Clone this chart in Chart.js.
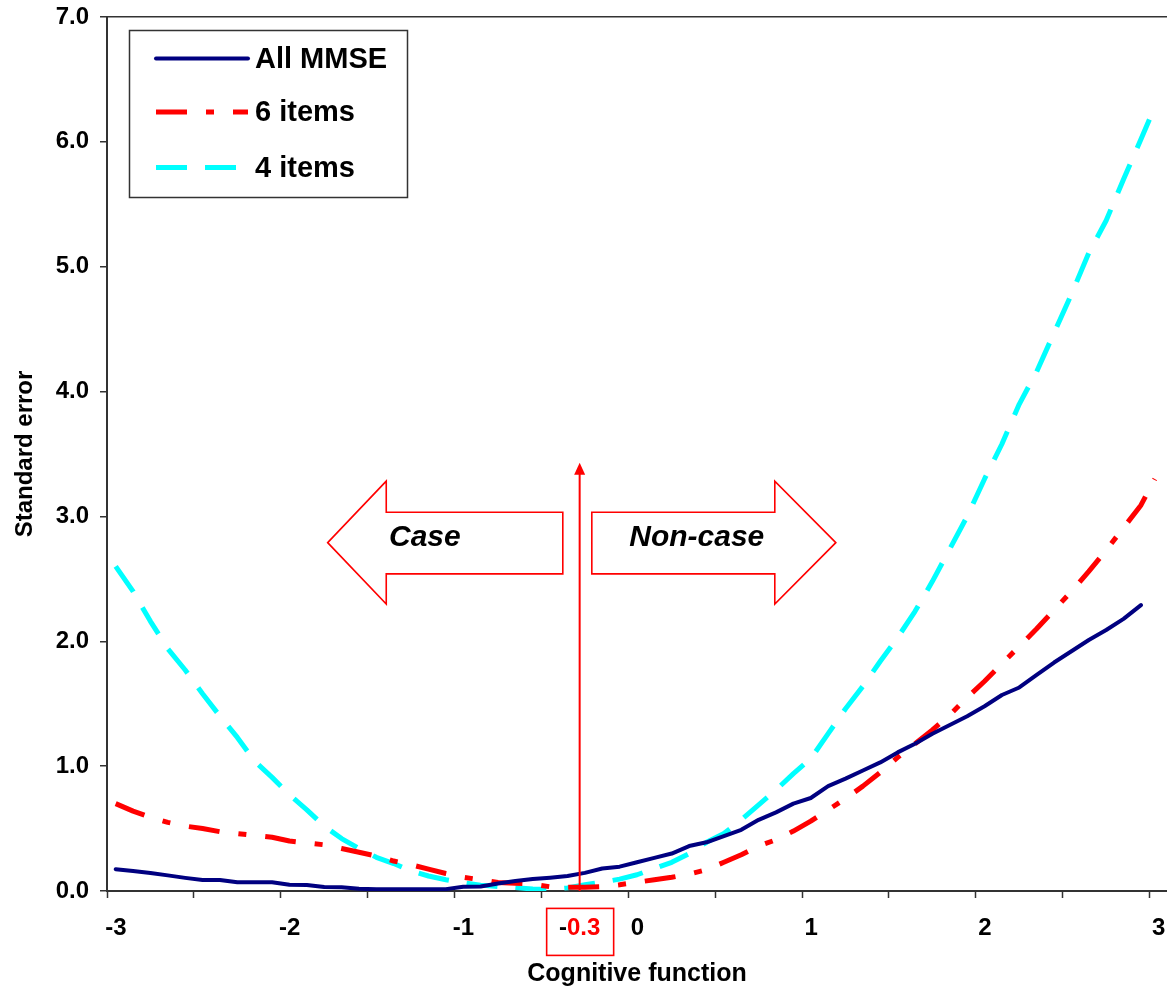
<!DOCTYPE html>
<html>
<head>
<meta charset="utf-8">
<script src="https://cdn.jsdelivr.net/npm/chart.js@4.4.1/dist/chart.umd.min.js"></script>
<style>
  html, body { margin: 0; padding: 0; background: #fff; }
  #wrap { width: 1167px; height: 990px; }
</style>
</head>
<body>
<div id="wrap"><canvas id="myChart"></canvas></div>
<script>
// cognitive function values (x) shared by the three curves
var xs = [-2.95, -2.85, -2.75, -2.65, -2.55, -2.45, -2.35, -2.25, -2.15, -2.05,
          -1.95, -1.85, -1.75, -1.65, -1.55, -1.45, -1.35, -1.25, -1.15, -1.05,
          -0.95, -0.85, -0.75, -0.65, -0.55, -0.45, -0.35, -0.25, -0.15, -0.05,
          0.05, 0.15, 0.25, 0.35, 0.45, 0.55, 0.65, 0.75, 0.85, 0.95,
          1.05, 1.15, 1.25, 1.35, 1.45, 1.55, 1.65, 1.75, 1.85, 1.95,
          2.05, 2.15, 2.25, 2.35, 2.45, 2.55, 2.65, 2.75, 2.85, 2.95,
          3.03];

var allMmse = [0.175, 0.16, 0.145, 0.125, 0.105, 0.088, 0.088, 0.07, 0.07, 0.07,
               0.05, 0.048, 0.032, 0.03, 0.018, 0.014, 0.014, 0.014, 0.014, 0.015,
               0.034, 0.036, 0.06, 0.08, 0.096, 0.107, 0.12, 0.145, 0.18, 0.195,
               0.23, 0.265, 0.30, 0.36, 0.39, 0.44, 0.49, 0.57, 0.63, 0.70,
               0.745, 0.84, 0.90, 0.965, 1.03, 1.11, 1.18, 1.26, 1.33, 1.40,
               1.48, 1.57, 1.63, 1.73, 1.83, 1.92, 2.01, 2.09, 2.18, 2.29,
               null];

var sixItems = [0.70, 0.64, 0.59, 0.55, 0.52, 0.50, 0.475, 0.46, 0.445, 0.43,
                0.40, 0.385, 0.37, 0.34, 0.31, 0.28, 0.24, 0.21, 0.175, 0.14,
                0.11, 0.09, 0.068, 0.062, 0.055, 0.034, 0.03, 0.03, 0.035, 0.05,
                0.07, 0.09, 0.11, 0.135, 0.17, 0.23, 0.29, 0.36, 0.41, 0.48,
                0.56, 0.65, 0.74, 0.84, 0.95, 1.07, 1.18, 1.29, 1.41, 1.55,
                1.68, 1.82, 1.96, 2.10, 2.25, 2.40, 2.56, 2.73, 2.91, 3.09,
                3.30];

var fourItems = [2.60, 2.40, 2.16, 1.94, 1.77, 1.58, 1.40, 1.23, 1.04, 0.91,
                 0.77, 0.65, 0.52, 0.42, 0.34, 0.27, 0.22, 0.16, 0.12, 0.09,
                 0.065, 0.047, 0.035, 0.027, 0.016, 0.014, 0.025, 0.05, 0.07, 0.095,
                 0.13, 0.18, 0.23, 0.30, 0.39, 0.46, 0.57, 0.69, 0.81, 0.94,
                 1.06, 1.26, 1.46, 1.64, 1.84, 2.03, 2.24, 2.48, 2.74, 3.00,
                 3.30, 3.58, 3.90, 4.16, 4.47, 4.78, 5.11, 5.37, 5.70, 6.02,
                 6.28];

var seriesNames = ['All MMSE', '6 items', '4 items'];
var xTicks = [-3, -2.5, -2, -1.5, -1, -0.5, 0, 0.5, 1, 1.5, 2, 2.5, 3];
var yTicks = [0, 1, 2, 3, 4, 5, 6, 7];

// cut-off and the two direction arrows, in data units
var cutoff = -0.28;
var cutoffTop = 3.43;
var cutoffLabel = ['-', '0.3'];
var caseArrow = [[-1.73, 2.79], [-1.393, 3.283], [-1.393, 3.034], [-0.377, 3.034],
                 [-0.377, 2.54], [-1.393, 2.54], [-1.393, 2.298]];
var nonCaseArrow = [[1.194, 2.79], [0.843, 3.283], [0.843, 3.034], [-0.21, 3.034],
                    [-0.21, 2.54], [0.843, 2.54], [0.843, 2.298]];
var arrowTexts = [{text: 'Case', x: -1.171, y: 2.83}, {text: 'Non-case', x: 0.394, y: 2.83}];

var FONT = '"Liberation Sans", Arial, sans-serif';
Chart.defaults.font.family = FONT;

var TICK_SIZE = 24;
var TICK_PAD = 16;

function pts(arr) {
    return xs.map((x, i) => ({x: x, y: arr[i]}));
}

var styles = [
    {color: '#000080', width: 4, dash: []},
    {color: '#ff0000', width: 5, dash: [31, 19, 8, 19]},
    {color: '#00ffff', width: 5, dash: [31, 18]}
];

var overlay = {
    id: 'overlay',
    afterDatasetsDraw(chart) {
        var ctx = chart.ctx;
        var xS = chart.scales.x, yS = chart.scales.y;
        var px = v => xS.getPixelForValue(v);
        var py = v => yS.getPixelForValue(v);
        ctx.save();

        // direction arrows
        ctx.strokeStyle = '#ff0000';
        ctx.lineWidth = 1.6;
        ctx.lineJoin = 'miter';
        [caseArrow, nonCaseArrow].forEach(poly => {
            ctx.beginPath();
            poly.forEach((p, i) => {
                if (i === 0) ctx.moveTo(px(p[0]), py(p[1]));
                else ctx.lineTo(px(p[0]), py(p[1]));
            });
            ctx.closePath();
            ctx.stroke();
        });
        ctx.fillStyle = '#000';
        ctx.font = 'italic bold 30px ' + FONT;
        ctx.textAlign = 'center';
        ctx.textBaseline = 'middle';
        arrowTexts.forEach(t => ctx.fillText(t.text, px(t.x), py(t.y)));

        // vertical cut-off arrow
        var cx = px(cutoff), top = py(cutoffTop);
        ctx.strokeStyle = '#ff0000';
        ctx.lineWidth = 2;
        ctx.beginPath();
        ctx.moveTo(cx, py(0));
        ctx.lineTo(cx, top + 10);
        ctx.stroke();
        ctx.fillStyle = '#ff0000';
        ctx.beginPath();
        ctx.moveTo(cx, top);
        ctx.lineTo(cx - 5.5, top + 12);
        ctx.lineTo(cx + 5.5, top + 12);
        ctx.closePath();
        ctx.fill();

        // boxed cut-off label under the axis
        ctx.font = 'bold ' + TICK_SIZE + 'px ' + FONT;
        ctx.textAlign = 'left';
        var w1 = ctx.measureText(cutoffLabel[0]).width;
        var w2 = ctx.measureText(cutoffLabel[1]).width;
        var lx = px(cutoff) - (w1 + w2) / 2;
        var ly = xS.top + 7 + TICK_PAD + TICK_SIZE * 1.2 / 2;
        ctx.fillStyle = '#000';
        ctx.fillText(cutoffLabel[0], lx, ly);
        ctx.fillStyle = '#ff0000';
        ctx.fillText(cutoffLabel[1], lx + w1, ly);
        ctx.strokeStyle = '#ff0000';
        ctx.lineWidth = 1.6;
        ctx.strokeRect(px(cutoff) - 33, ly - 20, 67, 47);

        // legend box
        var lg = {x: 129.5, y: 30.5, w: 278, h: 167};
        ctx.fillStyle = '#fff';
        ctx.fillRect(lg.x, lg.y, lg.w, lg.h);
        ctx.strokeStyle = '#333';
        ctx.lineWidth = 1.5;
        ctx.strokeRect(lg.x, lg.y, lg.w, lg.h);
        var rows = [58.5, 112, 167.5];
        ctx.font = 'bold 29px ' + FONT;
        ctx.textBaseline = 'middle';
        seriesNames.forEach((name, i) => {
            var st = styles[i];
            ctx.strokeStyle = st.color;
            ctx.lineWidth = st.width;
            ctx.lineCap = i === 0 ? 'round' : 'butt';
            ctx.setLineDash(st.dash);
            ctx.beginPath();
            ctx.moveTo(156, rows[i]);
            ctx.lineTo(248, rows[i]);
            ctx.stroke();
            ctx.setLineDash([]);
            ctx.fillStyle = '#000';
            ctx.fillText(name, 255, rows[i] + 1);
        });
        ctx.restore();
    }
};

var datasets = [allMmse, sixItems, fourItems].map((arr, i) => ({
    label: seriesNames[i],
    data: pts(arr),
    borderColor: styles[i].color,
    backgroundColor: styles[i].color,
    borderWidth: styles[i].width,
    borderDash: styles[i].dash,
    borderJoinStyle: 'round',
    borderCapStyle: i === 0 ? 'round' : 'butt',
    pointRadius: 0,
    pointHoverRadius: 0,
    tension: 0,
    fill: false
}));

var config = {
    type: 'line',
    data: {datasets: datasets},
    plugins: [overlay],
    options: {
        responsive: true,
        maintainAspectRatio: false,
        animation: false,
        events: [],
        layout: {padding: {top: 17, right: 0, bottom: 0, left: 0}},
        plugins: {
            legend: {display: false},
            tooltip: {enabled: false}
        },
        scales: {
            x: {
                type: 'linear',
                min: -3,
                max: 3.1,
                afterBuildTicks: s => { s.ticks = xTicks.map(v => ({value: v})); },
                afterFit: s => { s.height = 99; s.paddingLeft = 0; s.paddingRight = 0; },
                ticks: {
                    callback: v => Number.isInteger(v) ? String(v) : '',
                    font: {size: TICK_SIZE, weight: 'bold'},
                    color: '#000',
                    labelOffset: 9,
                    padding: TICK_PAD,
                    maxRotation: 0,
                    autoSkip: false
                },
                grid: {drawOnChartArea: false, tickLength: 7, tickColor: '#333', tickWidth: 1.5},
                border: {color: '#333', width: 2},
                title: {
                    display: true,
                    text: 'Cognitive function',
                    font: {size: 25, weight: 'bold'},
                    color: '#000',
                    padding: {top: 0, bottom: 1}
                }
            },
            y: {
                type: 'linear',
                min: 0,
                max: 7,
                afterBuildTicks: s => { s.ticks = yTicks.map(v => ({value: v})); },
                afterFit: s => { s.width = 107; s.paddingTop = 0; s.paddingBottom = 0; },
                ticks: {
                    callback: v => v.toFixed(1),
                    font: {size: TICK_SIZE, weight: 'bold'},
                    color: '#000',
                    padding: 11
                },
                grid: {
                    color: c => (c.tick && c.tick.value === 7) ? '#333' : 'rgba(0,0,0,0)',
                    lineWidth: 1.5,
                    tickLength: 7,
                    tickColor: '#333',
                    tickWidth: 1.5
                },
                border: {color: '#333', width: 2},
                title: {
                    display: true,
                    text: 'Standard error',
                    font: {size: 24, weight: 'bold'},
                    color: '#000',
                    padding: {top: 11, bottom: 0}
                }
            }
        }
    }
};

var myChart = new Chart(document.getElementById('myChart'), config);
</script>
</body>
</html>
